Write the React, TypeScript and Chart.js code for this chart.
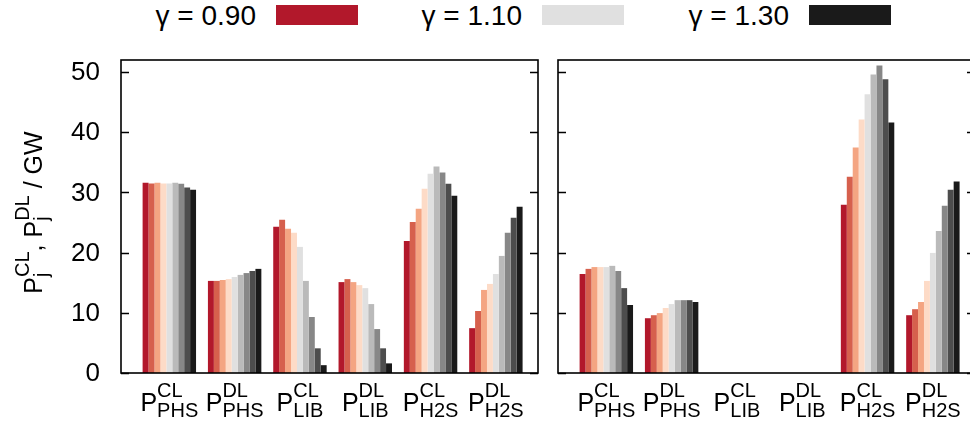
import React, { useEffect, useRef } from 'react';
import { Chart, registerables } from 'chart.js';

Chart.register(...registerables);

// ---------- data ----------
const gammaLabels = ['0.90', '0.95', '1.00', '1.05', '1.10', '1.15', '1.20', '1.25', '1.30'];
const gammaColors = ['#b2182b', '#d6604d', '#f4a582', '#fddbc7', '#e0e0e0', '#bababa', '#878787', '#4d4d4d', '#1a1a1a'];
const legendGammaIdx = [0, 4, 8];

const categoryIdx = [0, 1, 2, 3, 4, 5];
const catSup = ['CL', 'DL', 'CL', 'DL', 'CL', 'DL'];
const catSub = ['PHS', 'PHS', 'LIB', 'LIB', 'H2S', 'H2S'];

const yTicks = [0, 10, 20, 30, 40, 50];

// left panel (values for gamma 0.90 ... 1.30)
const leftPhsCL = [31.6, 31.5, 31.6, 31.5, 31.5, 31.6, 31.45, 30.8, 30.45];
const leftPhsDL = [15.3, 15.3, 15.45, 15.6, 15.95, 16.3, 16.6, 16.95, 17.3];
const leftLibCL = [24.3, 25.45, 23.95, 23.3, 20.95, 15.3, 9.3, 4.1, 1.3];
const leftLibDL = [15.1, 15.6, 15.1, 14.6, 14.1, 11.45, 7.3, 4.1, 1.6];
const leftH2sCL = [21.95, 25.1, 27.3, 30.6, 33.1, 34.3, 33.3, 31.45, 29.45];
const leftH2sDL = [7.45, 10.3, 13.8, 14.8, 16.45, 19.45, 23.3, 25.8, 27.6];

// right panel
const rightPhsCL = [16.45, 17.3, 17.6, 17.6, 17.6, 17.8, 16.95, 14.1, 11.3];
const rightPhsDL = [9.1, 9.6, 9.95, 10.8, 11.45, 12.1, 12.1, 12.1, 11.8];
const rightLibCL = [0, 0, 0, 0, 0, 0, 0, 0, 0];
const rightLibDL = [0, 0, 0, 0, 0, 0, 0, 0, 0];
const rightH2sCL = [27.95, 32.6, 37.45, 42.1, 46.3, 49.6, 51.1, 48.8, 41.6];
const rightH2sDL = [9.6, 10.6, 11.8, 15.3, 19.95, 23.6, 27.8, 30.45, 31.8];

const leftPanel = [leftPhsCL, leftPhsDL, leftLibCL, leftLibDL, leftH2sCL, leftH2sDL];
const rightPanel = [rightPhsCL, rightPhsDL, rightLibCL, rightLibDL, rightH2sCL, rightH2sDL];

// ---------- text helpers ----------
const FAMILY = '"Liberation Sans", Arial, Helvetica, sans-serif';
const font = (px: number) => `${px}px ${FAMILY}`;
const MAIN_PX = 25;
const SMALL_PX = 20;
const TICK_PX = 26;
const LEGEND_PX = 28;

type Seg = { main?: string; sup?: string; sub?: string };

function segWidth(ctx: CanvasRenderingContext2D, s: Seg) {
  if (s.main !== undefined) {
    ctx.font = font(MAIN_PX);
    return ctx.measureText(s.main).width;
  }
  ctx.font = font(SMALL_PX);
  return Math.max(ctx.measureText(s.sup ?? '').width, ctx.measureText(s.sub ?? '').width);
}

function drawRich(ctx: CanvasRenderingContext2D, segs: Seg[], cx: number, baseline: number, supDy: number, subDy: number) {
  const widths = segs.map((s) => segWidth(ctx, s));
  const total = widths.reduce((a, b) => a + b, 0);
  let x = cx - total / 2;
  ctx.textAlign = 'left';
  ctx.textBaseline = 'alphabetic';
  segs.forEach((s, i) => {
    if (s.main !== undefined) {
      ctx.font = font(MAIN_PX);
      ctx.fillText(s.main, x, baseline);
    } else {
      ctx.font = font(SMALL_PX);
      if (s.sup) ctx.fillText(s.sup, x, baseline + supDy);
      if (s.sub) ctx.fillText(s.sub, x, baseline + subDy);
    }
    x += widths[i];
  });
}

// ---------- plugin drawing frame, ticks, labels ----------
const framePlugin = {
  id: 'frameAndLabels',
  afterDatasetsDraw(chart: any, _args: any, opts: any) {
    const { ctx, chartArea: a, scales } = chart;
    const x = scales.x;
    const y = scales.y;
    ctx.save();
    ctx.fillStyle = '#000';
    ctx.strokeStyle = '#000';
    // inward ticks on both sides
    ctx.lineWidth = 1.4;
    yTicks.forEach((v) => {
      const py = Math.round(y.getPixelForValue(v)) + 0.5;
      ctx.beginPath();
      ctx.moveTo(a.left, py);
      ctx.lineTo(a.left + 8, py);
      ctx.moveTo(a.right - 8, py);
      ctx.lineTo(a.right, py);
      ctx.stroke();
    });
    // frame
    ctx.lineWidth = 1.6;
    ctx.strokeRect(a.left, a.top, a.right - a.left, a.bottom - a.top);

    // x category labels
    categoryIdx.forEach((c) => {
      const px = x.getPixelForValue(c);
      drawRich(ctx, [{ main: 'P' }, { sup: catSup[c], sub: catSub[c] }], px, a.bottom + 38, -14, 6);
    });

    if (opts && opts.showY) {
      ctx.font = font(TICK_PX);
      ctx.textAlign = 'right';
      ctx.textBaseline = 'middle';
      yTicks.forEach((v) => {
        ctx.fillText(String(v), a.left - 21, y.getPixelForValue(v) + 1);
      });
      // y title, rotated
      ctx.save();
      ctx.translate(a.left - 79, (a.top + a.bottom) / 2 - 4);
      ctx.rotate(-Math.PI / 2);
      drawRich(
        ctx,
        [{ main: 'P' }, { sup: 'CL', sub: 'j' }, { main: ', ' }, { main: 'P' }, { sup: 'DL', sub: 'j' }, { main: ' / GW' }],
        0,
        0,
        -13,
        6
      );
      ctx.restore();
    }
    ctx.restore();
  },
};

function makeConfig(panel: number[][], showY: boolean, padding: any): any {
  const datasets = gammaLabels.map((g, gi) => ({
    label: `γ = ${g}`,
    data: categoryIdx.map((c) => ({ x: c, y: panel[c][gi] })),
    backgroundColor: gammaColors[gi],
    borderWidth: 0,
    categoryPercentage: 9 / 11,
    barPercentage: 1,
  }));
  return {
    type: 'bar',
    data: { datasets },
    plugins: [framePlugin],
    options: {
      animation: false,
      responsive: false,
      devicePixelRatio: 1,
      layout: { padding },
      plugins: {
        legend: { display: false },
        tooltip: { enabled: false },
        frameAndLabels: { showY },
      },
      scales: {
        x: {
          type: 'linear',
          min: -0.74,
          max: 5.645,
          offset: false,
          display: false,
          afterBuildTicks: (s: any) => {
            s.ticks = categoryIdx.map((v) => ({ value: v }));
          },
        },
        y: {
          min: 0,
          max: 52,
          display: false,
          ticks: { stepSize: 10 },
        },
      },
    },
  };
}

export default function App() {
  const leftRef = useRef<HTMLCanvasElement>(null);
  const rightRef = useRef<HTMLCanvasElement>(null);

  useEffect(() => {
    const c1 = new Chart(leftRef.current as HTMLCanvasElement, makeConfig(leftPanel, true, { left: 121, right: 10, top: 60, bottom: 52 }));
    const c2 = new Chart(rightRef.current as HTMLCanvasElement, makeConfig(rightPanel, false, { left: 10, right: 15, top: 60, bottom: 52 }));
    return () => {
      c1.destroy();
      c2.destroy();
    };
  }, []);

  const legendBoxLeft = [276, 542, 809];

  return (
    <div style={{ position: 'fixed', left: 0, top: 0, width: 970, height: 425, overflow: 'hidden', background: '#fff' }}>
      {legendGammaIdx.map((gi, k) => (
        <React.Fragment key={gi}>
          <div
            style={{
              position: 'absolute',
              right: 970 - legendBoxLeft[k] + 20,
              top: 0,
              height: 31,
              lineHeight: '31px',
              fontFamily: FAMILY,
              fontSize: LEGEND_PX,
              color: '#000',
              whiteSpace: 'nowrap',
            }}
          >
            {`γ = ${gammaLabels[gi]}`}
          </div>
          <div
            style={{
              position: 'absolute',
              left: legendBoxLeft[k],
              top: 5,
              width: 82,
              height: 20,
              background: gammaColors[gi],
            }}
          />
        </React.Fragment>
      ))}
      <canvas ref={leftRef} width={548} height={425} style={{ position: 'absolute', left: 0, top: 0, width: 548, height: 425 }} />
      <canvas ref={rightRef} width={442} height={425} style={{ position: 'absolute', left: 548, top: 0, width: 442, height: 425 }} />
    </div>
  );
}
